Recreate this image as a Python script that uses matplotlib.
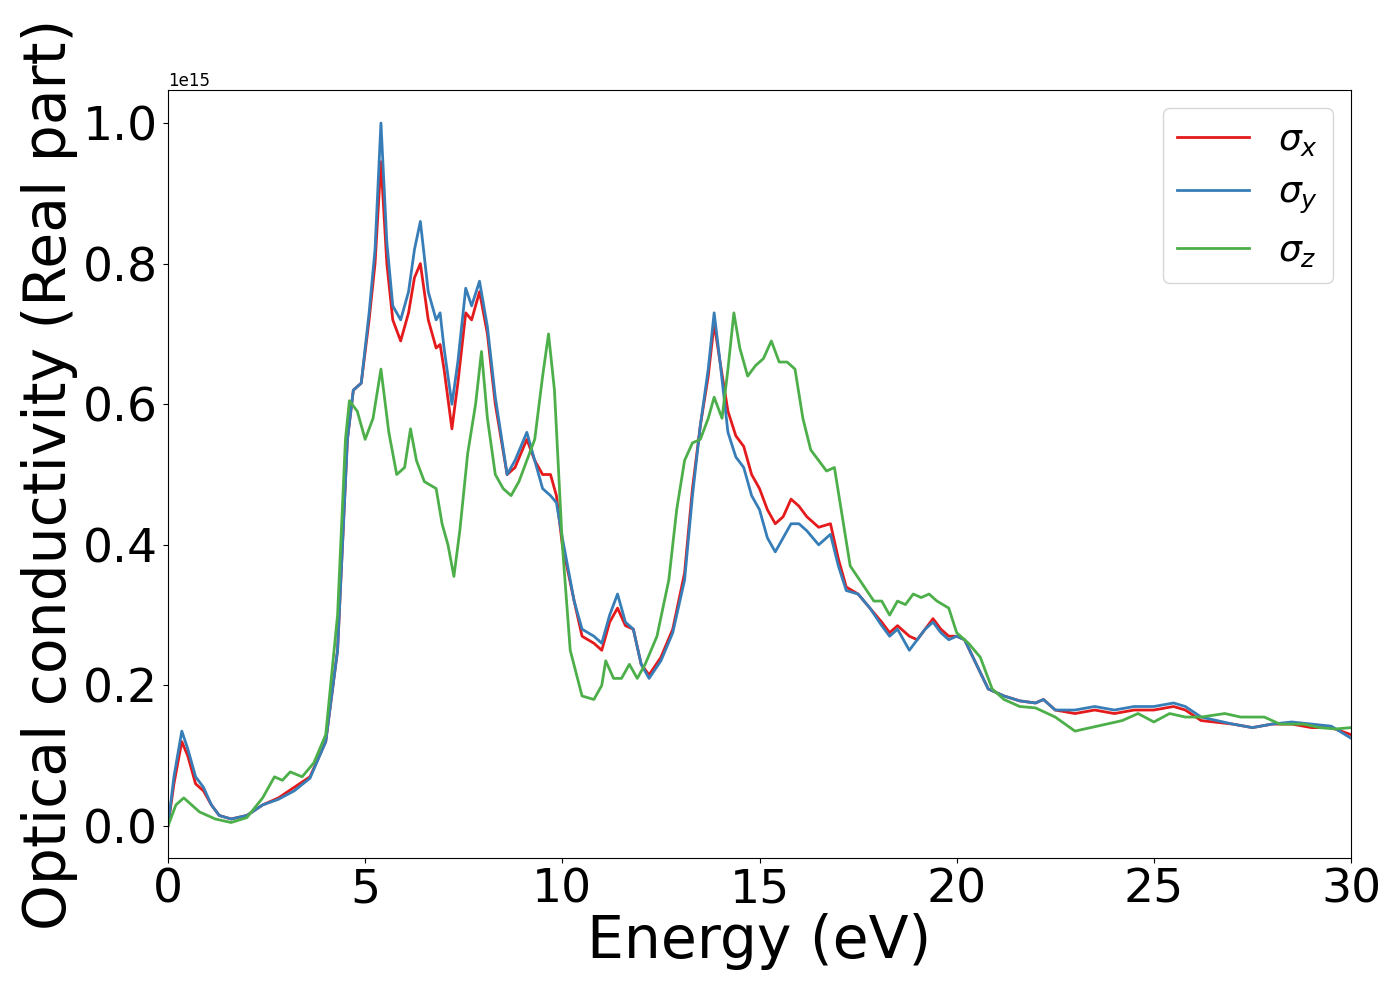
import numpy as np
import matplotlib
matplotlib.use("Agg")
import matplotlib.pyplot as plt

energy_x = [0,0.15,0.35,0.5,0.7,0.9,1.1,1.3,1.6,2.0,2.4,2.8,3.2,3.6,4.0,4.3,4.55,4.7,4.9,5.1,5.25,5.4,5.55,5.7,5.9,6.1,6.25,6.4,6.6,6.8,6.9,7.0,7.2,7.35,7.55,7.7,7.9,8.1,8.3,8.6,8.8,9.1,9.3,9.5,9.7,9.85,10.0,10.3,10.5,10.8,11.0,11.2,11.4,11.6,11.8,12.0,12.2,12.5,12.8,13.1,13.3,13.5,13.7,13.85,14.0,14.2,14.4,14.6,14.8,15.0,15.2,15.4,15.6,15.8,16.0,16.2,16.5,16.8,17.0,17.2,17.5,17.8,18.1,18.3,18.5,18.8,19.0,19.2,19.4,19.6,19.8,20.0,20.2,20.5,20.8,21.2,21.6,22.0,22.2,22.5,23.0,23.5,24.0,24.5,25.0,25.5,25.8,26.2,27.0,27.5,28.0,28.5,29.0,29.5,30.0]
sigma_x = [0,0.06,0.12,0.10,0.06,0.05,0.03,0.015,0.01,0.015,0.03,0.04,0.055,0.07,0.12,0.25,0.55,0.62,0.63,0.72,0.80,0.945,0.80,0.72,0.69,0.73,0.78,0.80,0.72,0.68,0.685,0.65,0.565,0.63,0.73,0.72,0.76,0.70,0.60,0.50,0.51,0.55,0.52,0.50,0.50,0.47,0.40,0.32,0.27,0.26,0.25,0.29,0.31,0.285,0.28,0.23,0.215,0.24,0.28,0.36,0.48,0.57,0.64,0.715,0.66,0.59,0.555,0.54,0.50,0.48,0.45,0.43,0.44,0.465,0.455,0.44,0.425,0.43,0.38,0.34,0.33,0.31,0.29,0.275,0.285,0.27,0.265,0.28,0.295,0.28,0.27,0.27,0.265,0.23,0.195,0.185,0.178,0.175,0.18,0.165,0.16,0.165,0.16,0.165,0.165,0.17,0.165,0.15,0.145,0.14,0.145,0.145,0.14,0.14,0.13]
sigma_y = [0,0.07,0.135,0.11,0.07,0.055,0.03,0.015,0.01,0.015,0.03,0.038,0.05,0.068,0.12,0.25,0.55,0.62,0.63,0.73,0.82,1.0,0.83,0.74,0.72,0.76,0.82,0.86,0.76,0.72,0.73,0.68,0.60,0.66,0.765,0.74,0.775,0.71,0.61,0.50,0.52,0.56,0.52,0.48,0.47,0.46,0.41,0.32,0.28,0.27,0.26,0.30,0.33,0.29,0.28,0.23,0.21,0.235,0.275,0.35,0.47,0.57,0.65,0.73,0.66,0.56,0.525,0.51,0.47,0.45,0.41,0.39,0.41,0.43,0.43,0.42,0.40,0.415,0.37,0.335,0.33,0.31,0.285,0.27,0.28,0.25,0.265,0.28,0.29,0.275,0.265,0.27,0.265,0.23,0.195,0.185,0.178,0.175,0.18,0.165,0.165,0.17,0.165,0.17,0.17,0.175,0.17,0.155,0.145,0.14,0.145,0.148,0.145,0.142,0.125]

energy_z = [0,0.2,0.4,0.6,0.8,1.2,1.6,2.0,2.4,2.7,2.9,3.1,3.4,3.7,4.0,4.3,4.5,4.6,4.8,5.0,5.2,5.4,5.6,5.8,6.0,6.15,6.3,6.5,6.8,6.95,7.1,7.25,7.4,7.6,7.8,7.95,8.1,8.3,8.5,8.7,8.9,9.1,9.3,9.5,9.65,9.8,10.0,10.2,10.5,10.8,11.0,11.1,11.3,11.5,11.7,11.9,12.1,12.4,12.7,12.9,13.1,13.3,13.5,13.7,13.85,14.05,14.2,14.35,14.5,14.7,14.9,15.1,15.3,15.5,15.7,15.9,16.1,16.3,16.5,16.7,16.9,17.1,17.3,17.6,17.9,18.1,18.3,18.5,18.7,18.9,19.1,19.3,19.5,19.8,20.0,20.3,20.6,20.9,21.2,21.6,22.0,22.5,23.0,23.4,23.8,24.2,24.6,25.0,25.4,25.8,26.2,26.8,27.2,27.8,28.2,28.8,29.2,29.6,30.0]
sigma_z = [0,0.03,0.04,0.03,0.02,0.01,0.005,0.012,0.04,0.07,0.065,0.077,0.07,0.09,0.13,0.30,0.55,0.605,0.59,0.55,0.58,0.65,0.56,0.50,0.51,0.565,0.52,0.49,0.48,0.43,0.40,0.355,0.42,0.53,0.60,0.675,0.58,0.50,0.48,0.47,0.49,0.52,0.55,0.64,0.70,0.62,0.40,0.25,0.185,0.18,0.20,0.235,0.21,0.21,0.23,0.21,0.23,0.27,0.35,0.45,0.52,0.545,0.55,0.58,0.61,0.58,0.65,0.73,0.68,0.64,0.655,0.665,0.69,0.66,0.66,0.65,0.58,0.535,0.52,0.505,0.51,0.44,0.37,0.345,0.32,0.32,0.30,0.32,0.315,0.33,0.325,0.33,0.32,0.31,0.275,0.26,0.24,0.195,0.18,0.17,0.168,0.155,0.135,0.14,0.145,0.15,0.16,0.148,0.16,0.155,0.155,0.16,0.155,0.155,0.145,0.145,0.14,0.138,0.14]

scale = 1e15
fig = plt.figure(figsize=(14, 10), dpi=100)
ax = fig.add_axes([0.12, 0.142, 0.845, 0.768])
ax.plot(energy_x, np.array(sigma_x) * scale, color='#e41a1c', lw=2, label=r'$\sigma_x$')
ax.plot(energy_x, np.array(sigma_y) * scale, color='#377eb8', lw=2, label=r'$\sigma_y$')
ax.plot(energy_z, np.array(sigma_z) * scale, color='#4daf4a', lw=2, label=r'$\sigma_z$')
ax.set_xlim(0, 30)
ax.set_ylim(-0.0455e15, 1.047e15)
ax.tick_params(labelsize=34)
ax.yaxis.get_offset_text().set_fontsize(12)
ax.set_xlabel('Energy (eV)', fontsize=42, labelpad=0)
ax.set_ylabel('Optical conductivity (Real part)', fontsize=42, labelpad=4)
ax.legend(fontsize=26, loc='upper right')
fig.savefig('out.png')
